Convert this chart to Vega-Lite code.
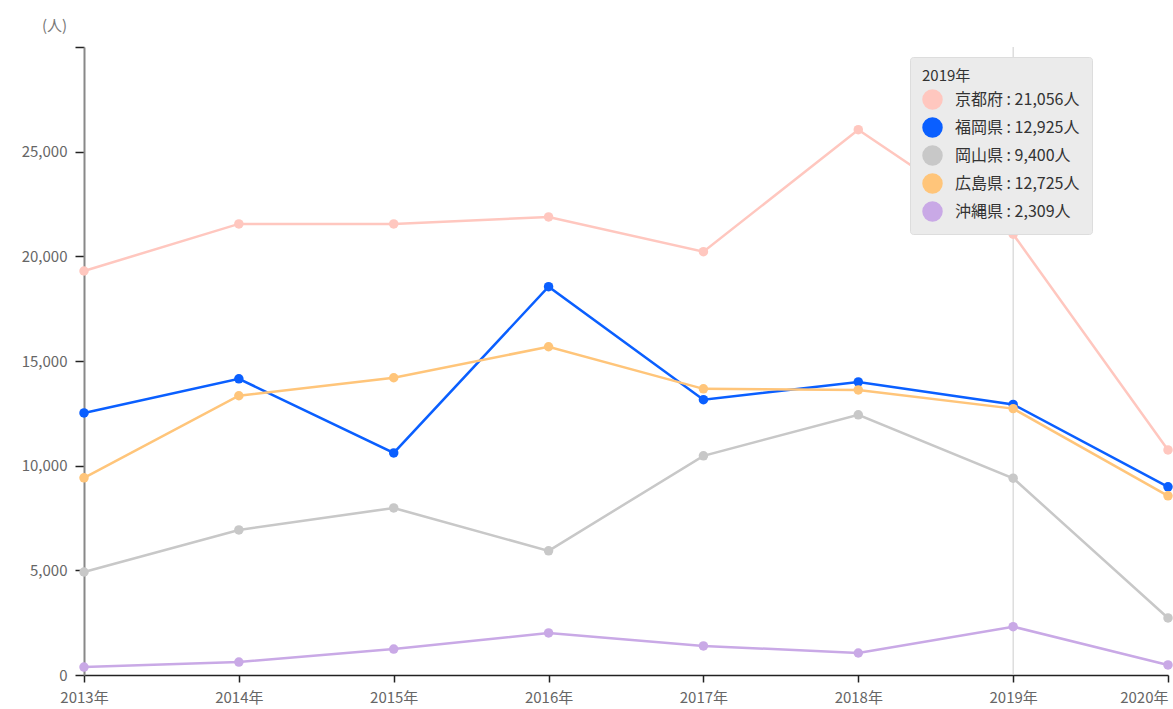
{
  "$schema": "https://vega.github.io/schema/vega-lite/v6.json",
  "width": 1084,
  "height": 628,
  "autosize": "none",
  "padding": {"left": 84, "top": 47, "right": 5, "bottom": 34},
  "background": "white",
  "config": {
    "font": "Noto Sans CJK JP",
    "view": {"stroke": null}
  },
  "datasets": {
    "main": [
      {"year": "2013年", "pref": "京都府", "value": 19300},
      {"year": "2014年", "pref": "京都府", "value": 21550},
      {"year": "2015年", "pref": "京都府", "value": 21550},
      {"year": "2016年", "pref": "京都府", "value": 21880},
      {"year": "2017年", "pref": "京都府", "value": 20220},
      {"year": "2018年", "pref": "京都府", "value": 26050},
      {"year": "2019年", "pref": "京都府", "value": 21056},
      {"year": "2020年", "pref": "京都府", "value": 10750},
      {"year": "2013年", "pref": "福岡県", "value": 12520},
      {"year": "2014年", "pref": "福岡県", "value": 14150},
      {"year": "2015年", "pref": "福岡県", "value": 10610},
      {"year": "2016年", "pref": "福岡県", "value": 18550},
      {"year": "2017年", "pref": "福岡県", "value": 13150},
      {"year": "2018年", "pref": "福岡県", "value": 14000},
      {"year": "2019年", "pref": "福岡県", "value": 12925},
      {"year": "2020年", "pref": "福岡県", "value": 8990},
      {"year": "2013年", "pref": "岡山県", "value": 4920},
      {"year": "2014年", "pref": "岡山県", "value": 6930},
      {"year": "2015年", "pref": "岡山県", "value": 7980},
      {"year": "2016年", "pref": "岡山県", "value": 5930},
      {"year": "2017年", "pref": "岡山県", "value": 10470},
      {"year": "2018年", "pref": "岡山県", "value": 12430},
      {"year": "2019年", "pref": "岡山県", "value": 9400},
      {"year": "2020年", "pref": "岡山県", "value": 2725},
      {"year": "2013年", "pref": "広島県", "value": 9420},
      {"year": "2014年", "pref": "広島県", "value": 13340},
      {"year": "2015年", "pref": "広島県", "value": 14200},
      {"year": "2016年", "pref": "広島県", "value": 15680},
      {"year": "2017年", "pref": "広島県", "value": 13670},
      {"year": "2018年", "pref": "広島県", "value": 13620},
      {"year": "2019年", "pref": "広島県", "value": 12725},
      {"year": "2020年", "pref": "広島県", "value": 8560},
      {"year": "2013年", "pref": "沖縄県", "value": 380},
      {"year": "2014年", "pref": "沖縄県", "value": 620},
      {"year": "2015年", "pref": "沖縄県", "value": 1240},
      {"year": "2016年", "pref": "沖縄県", "value": 2010},
      {"year": "2017年", "pref": "沖縄県", "value": 1390},
      {"year": "2018年", "pref": "沖縄県", "value": 1050},
      {"year": "2019年", "pref": "沖縄県", "value": 2309},
      {"year": "2020年", "pref": "沖縄県", "value": 480}
    ],
    "marker": [{"year": "2019年"}]
  },
  "layer": [
    {
      "data": {"name": "marker"},
      "mark": {"type": "rule", "color": "#cccccc", "strokeWidth": 1},
      "encoding": {
        "x": {"field": "year", "type": "ordinal", "scale": {"type": "point", "padding": 0}}
      }
    },
    {
      "data": {"name": "main"},
      "mark": {"type": "line", "strokeWidth": 2.5, "point": {"filled": true, "size": 90, "opacity": 1}},
      "encoding": {
        "x": {
          "field": "year",
          "type": "ordinal",
          "scale": {"type": "point", "padding": 0},
          "sort": null,
          "axis": {
            "title": null,
            "labelAngle": 0,
            "labelAlign": {"condition": {"test": "datum.value == '2020年'", "value": "right"}, "value": "center"},
            "labelBaseline": "top",
            "labelColor": "#666666",
            "labelFontSize": 15,
            "labelPadding": 8,
            "domainColor": "#222222",
            "domainWidth": 1.5,
            "tickColor": "#222222",
            "tickSize": 7,
            "tickWidth": 1.5,
            "grid": false
          }
        },
        "y": {
          "field": "value",
          "type": "quantitative",
          "scale": {"domain": [0, 30000], "nice": false},
          "axis": {
            "title": "(人)",
            "titleAngle": 0,
            "titleX": -30,
            "titleY": -22,
            "titleAlign": "center",
            "titleBaseline": "middle",
            "titleColor": "#777777",
            "titleFontSize": 15,
            "titleFontWeight": "normal",
            "values": [0, 5000, 10000, 15000, 20000, 25000, 30000],
            "labelExpr": "datum.value == 30000 ? '' : format(datum.value, ',')",
            "labelColor": "#666666",
            "labelFontSize": 15,
            "labelPadding": 8,
            "domainColor": "#888888",
            "domainWidth": 2,
            "tickColor": "#222222",
            "tickSize": 9,
            "tickWidth": 1.5,
            "grid": false
          }
        },
        "color": {
          "field": "pref",
          "type": "nominal",
          "scale": {
            "domain": ["京都府", "福岡県", "岡山県", "広島県", "沖縄県"],
            "range": ["#ffc7bf", "#0a5fff", "#c8c8c8", "#ffc57a", "#c9a9e6"]
          },
          "legend": {
            "orient": "none",
            "legendX": 826,
            "legendY": 10,
            "title": "2019年",
            "titleFontSize": 15,
            "titleFontWeight": "normal",
            "titleColor": "#333333",
            "titlePadding": 5,
            "labelFontSize": 16,
            "labelColor": "#333333",
            "labelOffset": 12,
            "labelLimit": 300,
            "labelExpr": "datum.label + ' : ' + ({'京都府':'21,056','福岡県':'12,925','岡山県':'9,400','広島県':'12,725','沖縄県':'2,309'})[datum.label] + '人'",
            "symbolType": "circle",
            "symbolSize": 420,
            "symbolStrokeWidth": 0,
            "rowPadding": 7,
            "padding": 12,
            "fillColor": "#ebebeb",
            "strokeColor": "#dddddd",
            "cornerRadius": 3
          }
        }
      }
    }
  ]
}
